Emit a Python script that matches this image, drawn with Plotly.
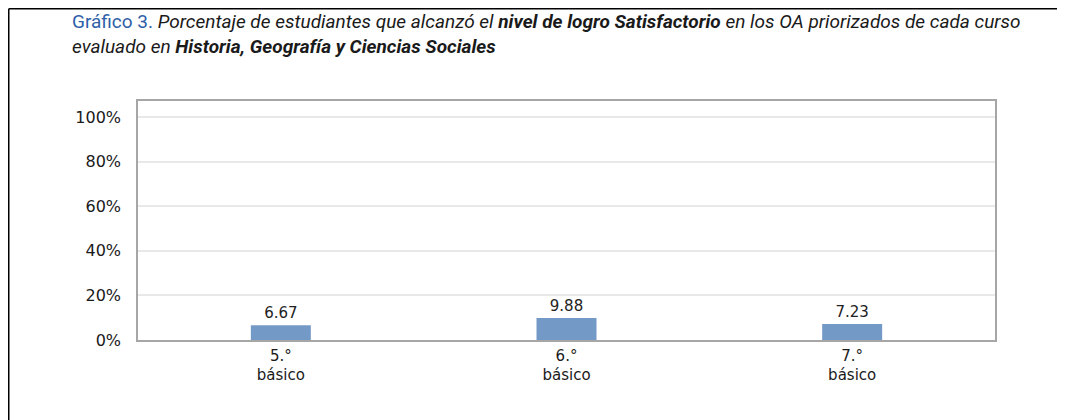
import plotly.graph_objects as go

categories = ["5.°<br>básico", "6.°<br>básico", "7.°<br>básico"]
values = [6.67, 9.88, 7.23]
tick_vals = [0, 20, 40, 60, 80, 100]
tick_text = ["0%", "20%", "40%", "60%", "80%", "100%"]

OFF = 8  # page body margin
W, H = 1065 - OFF, 420 - OFF
L, R, T, B = 130, 70, 93, 80
pw, ph = W - L - R, H - T - B

def px(x):  # screen x -> paper
    return (x - OFF - L) / pw

def py(y):  # screen y -> paper
    return (H - B - (y - OFF)) / ph

fig = go.Figure(go.Bar(
    x=categories, y=values,
    marker=dict(color="#7399C6", line=dict(width=0)),
    width=0.21,
    text=[f"{v:.2f}" for v in values],
    textposition="outside",
    textfont=dict(family="DejaVu Sans", size=15, color="#222222"),
    cliponaxis=False,
))

title = ("<span style='color:#2E5FA8'>Gráfico 3.</span> <i>Porcentaje de estudiantes que alcanzó el "
         "<b>nivel de logro Satisfactorio</b> en los OA priorizados de cada curso</i><br>"
         "<i>evaluado en <b>Historia, Geografía y Ciencias Sociales</b></i>")

fig.add_annotation(
    text=title, xref="paper", yref="paper", x=px(70), y=py(8),
    xanchor="left", yanchor="top", align="left", showarrow=False,
    font=dict(family="Roboto", size=19, color="#1a1a1a"),
)

fig.add_shape(type="line", xref="paper", yref="paper",
              x0=px(8.75), x1=px(1065), y0=py(8.75), y1=py(8.75),
              line=dict(color="black", width=1.5))
fig.add_shape(type="line", xref="paper", yref="paper",
              x0=px(8.75), x1=px(8.75), y0=py(8.75), y1=py(420),
              line=dict(color="black", width=1.5))

fig.update_layout(
    width=W, height=H,
    margin=dict(l=L, r=R, t=T, b=B),
    paper_bgcolor="white", plot_bgcolor="white",
    showlegend=False,
    xaxis=dict(showgrid=False, showline=True, linecolor="#A6A6A6", linewidth=1.5,
               mirror=True, ticks="", ticklabelstandoff=1,
               tickfont=dict(family="DejaVu Sans", size=15, color="#1a1a1a")),
    yaxis=dict(range=[0, 107.2], tickvals=tick_vals, ticktext=tick_text,
               showgrid=True, gridcolor="#E8E8E8", gridwidth=1.5,
               showline=True, linecolor="#A6A6A6", linewidth=1.5, mirror=True,
               ticks="", ticklabelstandoff=12, zeroline=False,
               tickfont=dict(family="DejaVu Sans", size=16, color="#1a1a1a")),
)

fig.write_html("out.html")
